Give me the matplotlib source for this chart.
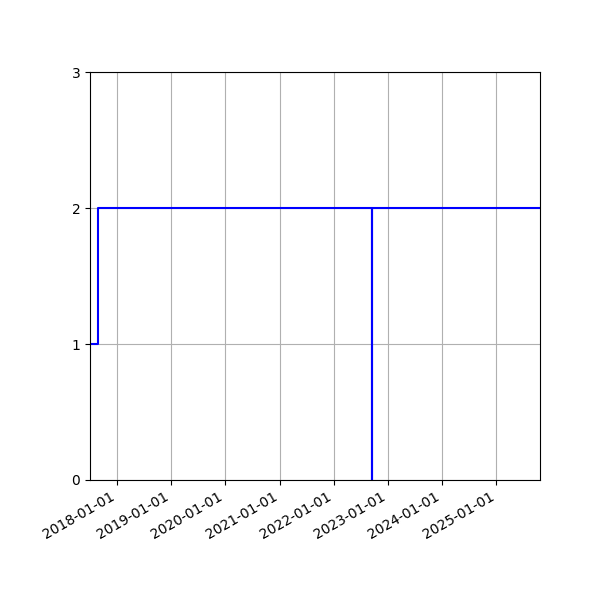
import matplotlib
matplotlib.use("Agg")
import matplotlib.pyplot as plt
import matplotlib.dates as mdates
import pandas as pd

dates = ["2017-07-05", "2017-08-25", "2022-09-16", "2022-09-17", "2025-10-21"]
values = [1, 2, 0, 2, 2]
yticks = [0, 1, 2, 3]

x = pd.to_datetime(dates)

fig, ax = plt.subplots(figsize=(6, 6), dpi=100)
ax.step(x, values, where="post", color="blue", linewidth=1.5)
ax.set_xlim(x[0], x[-1])
ax.set_ylim(0, 3)
ax.set_yticks(yticks)
ax.xaxis.set_major_locator(mdates.YearLocator())
ax.xaxis.set_major_formatter(mdates.DateFormatter("%Y-%m-%d"))
ax.grid(True)
fig.autofmt_xdate()
fig.subplots_adjust(left=0.15, right=0.9, top=0.88, bottom=0.2)
fig.savefig("out.png")
